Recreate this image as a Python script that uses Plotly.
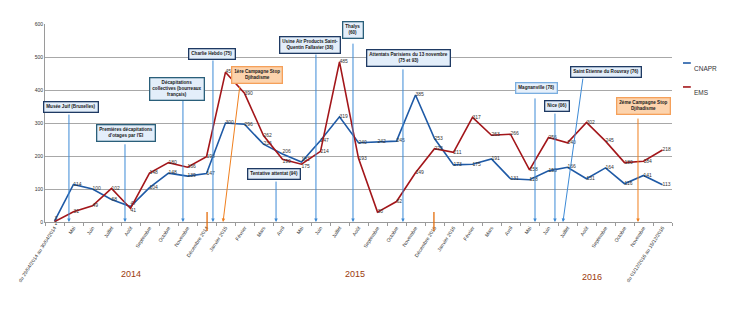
import plotly.graph_objects as go

# ---------------- data ----------------
categories = ["du 29/04/2014 au 30/04/2014", "Mai", "Juin", "Juillet", "Août", "Septembre",
              "Octobre", "Novembre", "Décembre 2014", "Janvier 2015", "Février", "Mars",
              "Avril", "Mai", "Juin", "Juillet", "Août", "Septembre", "Octobre", "Novembre",
              "Décembre 2015", "Janvier 2016", "Février", "Mars", "Avril", "Mai", "Juin",
              "Juillet", "Août", "Septembre", "Octobre", "Novembre",
              "du 01/12/2016 au 15/12/2016"]
cnapr = [3, 114, 100, 68, 47, 104, 148, 139, 147, 300, 296, 236, 206, 182, 247, 319, 240,
         242, 245, 385, 253, 173, 175, 191, 131, 128, 155, 166, 131, 164, 116, 141, 113]
ems = [1, 31, 49, 102, 41, 148, 180, 166, 198, 454, 390, 262, 190, 175, 214, 485, 193,
       30, 62, 149, 222, 211, 317, 263, 266, 158, 256, 240, 302, 245, 180, 184, 218]
years = ["2014", "2015", "2016"]

event_labels = ["Musée Juif (Bruxelles)",
                "Premières décapitations<br>d'otages par l'EI",
                "Décapitations<br>collectives (bourreaux<br>français)",
                "Charlie Hebdo (75)",
                "1ère Campagne Stop<br>Djihadisme",
                "Tentative attentat (94)",
                "Usine Air Products Saint-<br>Quentin Fallavier (38)",
                "Thalys<br>(60)",
                "Attentats Parisiens du 13 novembre<br>(75 et 93)",
                "Magnanville (78)",
                "Nice (06)",
                "Saint Etienne du Rouvray (76)",
                "2ème Campagne Stop<br>Djihadisme"]
# event date position on the month axis (fractional month index)
event_dates = [0.76, 3.71, 6.76, 8.34, 8.87, 11.66, 13.76, 15.71, 18.34, 25.29, 26.34, 26.76, 30.71]

# ---------------- layout helpers (positions / styles) ----------------
# box centre (x index, y value), arrow tail (x index, y value), style
box_layout = [
    (0.89, 347, 0.76, 330, "dark"),
    (3.76, 271, 3.71, 240, "teal"),
    (6.47, 403, 6.76, 373, "teal"),
    (8.29, 509, 8.34, 494, "dark"),
    (10.68, 445, 9.76, 415, "orange"),
    (11.55, 145, 11.66, 127, "dark"),
    (13.47, 536, 13.76, 512, "dark"),
    (15.71, 582, 15.71, 545, "teal"),
    (18.63, 498, 18.34, 467, "dark"),
    (25.39, 405, 25.29, 379, "light"),
    (26.47, 353, 26.34, 333, "dark"),
    (29.0, 455, 27.82, 439, "dark"),
    (31.0, 352, 30.71, 318, "orange"),
]
styles = {
    "dark": dict(border="#1f3a63", fill="#e3eefa", arrow="#3c8ad6"),
    "teal": dict(border="#2a5f7a", fill="#e3eefa", arrow="#3c8ad6"),
    "light": dict(border="#7aaee0", fill="#e6f0fb", arrow="#3c8ad6"),
    "orange": dict(border="#f5a05a", fill="#fcd3ad", arrow="#f07f1e"),
}
year_pos = [(4.0, -0.30), (15.8, -0.30), (28.3, -0.315)]
year_marks = [8.03, 19.97]

x = list(range(len(categories)))


def label_positions(a, b):
    pos = []
    for va, vb in zip(a, b):
        if abs(va - vb) < 20:
            pos.append("top right" if va >= vb else "bottom right")
        else:
            pos.append("middle right")
    return pos


lab_font = dict(size=5, color="#333333", family="Liberation Sans Narrow, Liberation Sans")
fig = go.Figure()
fig.add_trace(go.Scatter(
    x=x, y=cnapr, mode="lines+text", name="CNAPR",
    text=[str(v) for v in cnapr], textposition=label_positions(cnapr, ems),
    textfont=lab_font, line=dict(color="#1f5aa6", width=1.6), cliponaxis=False, showlegend=False))
fig.add_trace(go.Scatter(
    x=x, y=ems, mode="lines+text", name="EMS",
    text=[str(v) for v in ems], textposition=label_positions(ems, cnapr),
    textfont=lab_font, line=dict(color="#a3161a", width=1.6), cliponaxis=False, showlegend=False))

box_font = "Liberation Sans Narrow, Liberation Sans"
for label, (bx, by, tx, ty, st), d in zip(event_labels, box_layout, event_dates):
    s = styles[st]
    fig.add_annotation(x=d, y=0, ax=tx, ay=ty, xref="x", yref="y", axref="x", ayref="y",
                       text="", showarrow=True, arrowhead=2, arrowsize=0.7,
                       arrowwidth=1, arrowcolor=s["arrow"], standoff=0)
    fig.add_annotation(x=bx, y=by, xref="x", yref="y", text="<b>" + label + "</b>",
                       showarrow=False, bgcolor=s["fill"], bordercolor=s["border"],
                       borderwidth=1.3, borderpad=2,
                       font=dict(size=4.6, color="#1a1a1a", family=box_font))

for (yx, yy), yr in zip(year_pos, years):
    fig.add_annotation(x=yx, y=yy, xref="x", yref="paper", text=yr, showarrow=False,
                       font=dict(size=9, color="#9c3a0c", family="Liberation Sans Narrow, Liberation Sans"))

for m in year_marks:
    fig.add_shape(type="line", xref="x", yref="paper", x0=m, x1=m, y0=-0.045, y1=0.05,
                  line=dict(color="#e46c0a", width=1.3))

# manual legend
for name, color, py in [("CNAPR", "#1f5aa6", 0.803), ("EMS", "#a3161a", 0.682)]:
    fig.add_shape(type="line", xref="paper", yref="paper", x0=1.0175, x1=1.030, y0=py, y1=py,
                  line=dict(color=color, width=1.6))
    fig.add_annotation(x=1.032, y=py, xref="paper", yref="paper", text=name, showarrow=False,
                       xanchor="left", font=dict(size=6.5, color="#333333", family="Liberation Sans Narrow, Liberation Sans"))

fig.update_layout(
    width=729, height=325, margin=dict(l=45, r=57, t=24, b=103),
    paper_bgcolor="white", plot_bgcolor="white", showlegend=False,
    xaxis=dict(range=[-0.5, len(categories) - 0.5], tickmode="array", tickvals=x,
               ticktext=categories, tickangle=-57, showgrid=False, zeroline=False,
               showline=True, linecolor="#9a9a9a", ticks="",
               tickfont=dict(size=5, color="#333333", family="Liberation Sans Narrow, Liberation Sans"),
               minor=dict(tickmode="array", tickvals=[i - 0.5 for i in range(len(categories) + 1)],
                          ticks="outside", ticklen=3, tickcolor="#9a9a9a", showgrid=False)),
    yaxis=dict(range=[0, 600], dtick=100, showgrid=True, gridcolor="#a8a8a8", gridwidth=1,
               zeroline=False, showline=True, linecolor="#9a9a9a", ticks="",
               tickfont=dict(size=5, color="#333333", family="Liberation Sans Narrow, Liberation Sans")),
)

fig.write_html("out.html")
